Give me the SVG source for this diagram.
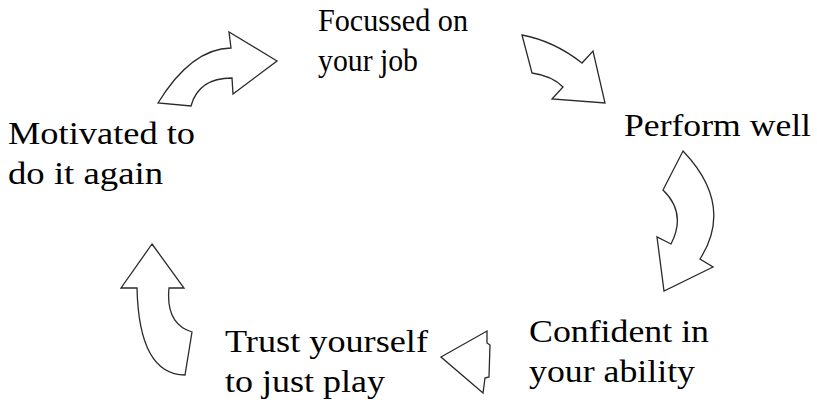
<svg xmlns="http://www.w3.org/2000/svg" width="817" height="407" viewBox="0 0 817 407">
<style>
text{font-family:'Liberation Serif','Times New Roman',serif;font-size:32px;fill:#000}
.a{fill:#fff;stroke:#2a2a2a;stroke-width:1.3;stroke-linejoin:miter}
</style>
<rect width="817" height="407" fill="#fff"/>
<g id="n-focus"><text x="318" y="31" textLength="150" lengthAdjust="spacingAndGlyphs">Focussed on</text><text x="318" y="71" textLength="100" lengthAdjust="spacingAndGlyphs">your job</text></g>
<g id="n-perform"><text x="624" y="136" textLength="187" lengthAdjust="spacingAndGlyphs">Perform well</text></g>
<g id="n-confident"><text x="529" y="342" textLength="180" lengthAdjust="spacingAndGlyphs">Confident in</text><text x="529" y="382" textLength="166" lengthAdjust="spacingAndGlyphs">your ability</text></g>
<g id="n-trust"><text x="225" y="352" textLength="203" lengthAdjust="spacingAndGlyphs">Trust yourself</text><text x="225" y="392" textLength="160" lengthAdjust="spacingAndGlyphs">to just play</text></g>
<g id="n-motivated"><text x="8" y="144" textLength="187" lengthAdjust="spacingAndGlyphs">Motivated to</text><text x="8" y="184" textLength="155" lengthAdjust="spacingAndGlyphs">do it again</text></g>
<g id="connectors">
<path class="a" d="M158,103 Q191.5,48.5 231,48 L229,32 L277,61 L233,94 L232,78 Q198.5,78 191,106 Z"/>
<path class="a" d="M522,35 Q554,41 582,63 L593,51 L605,103 L552,99 L563,87 Q552.5,76 532,73 Z"/>
<path class="a" d="M683,151 Q734.5,205 700,259 L713,267 L664,291 L657,237 L671,244 Q687,213 663,190 Z"/>
<path class="a" d="M441,357 L487,331 L487,343 L490,345 L489,377 L485,378 L483,393 Z"/>
<path class="a" d="M152,244 L184,288 L169,288 Q165.5,324 192,332 L185,375 Q139,374.5 137,288 L121,288 Z"/>
</g>
</svg>
